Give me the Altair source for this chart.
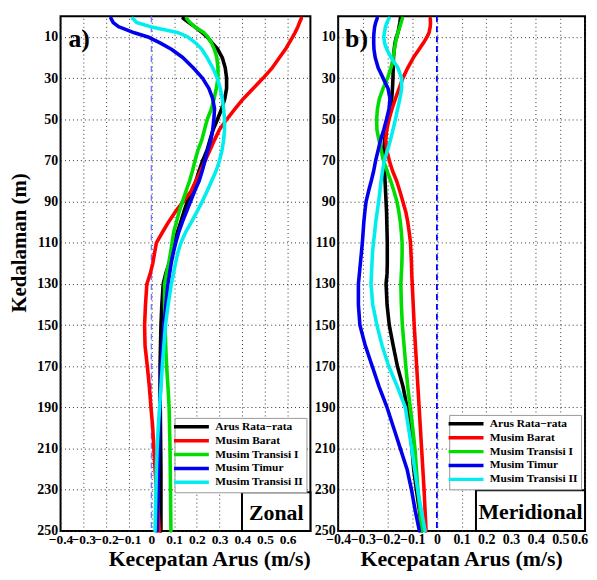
import altair as alt
import pandas as pd

# ---------------- data ----------------
depths = [1, 3, 5, 8, 10, 13, 16, 20, 25, 30, 35, 40, 45, 50, 55, 60, 65, 70, 75, 80, 85,
          90, 95, 100, 105, 110, 115, 120, 125, 130, 140, 150, 160, 170, 180, 190, 200,
          210, 220, 230, 240, 250]

series_names = ["Arus Rata\u2212rata", "Musim Barat", "Musim Transisi I", "Musim Timur", "Musim Transisi II"]
colors = ["#000000", "#ff0000", "#00dd00", "#0000ee", "#00eeee"]

zonal_rata = [0.14, 0.165, 0.19, 0.225, 0.245, 0.268, 0.292, 0.312, 0.325, 0.331, 0.331, 0.323, 0.309,
              0.291, 0.272, 0.258, 0.245, 0.226, 0.21, 0.196, 0.178, 0.158, 0.143, 0.129, 0.114, 0.100,
              0.09, 0.078, 0.063, 0.052, 0.046, 0.042, 0.04, 0.038, 0.038, 0.039, 0.040, 0.041, 0.042,
              0.042, 0.042, 0.042]
zonal_barat = [0.66, 0.652, 0.645, 0.632, 0.622, 0.606, 0.59, 0.564, 0.532, 0.492, 0.448, 0.405, 0.368,
               0.332, 0.30, 0.278, 0.258, 0.237, 0.217, 0.196, 0.174, 0.14, 0.105, 0.075, 0.048, 0.022,
               0.014, 0.006, -0.005, -0.02, -0.026, -0.03, -0.028, -0.018, -0.009, -0.002, 0.006, 0.011,
               0.016, 0.022, 0.029, 0.035]
zonal_transisi1 = [0.155, 0.17, 0.19, 0.232, 0.248, 0.265, 0.277, 0.288, 0.293, 0.293, 0.286, 0.276, 0.264,
                   0.246, 0.234, 0.222, 0.205, 0.192, 0.181, 0.168, 0.152, 0.137, 0.122, 0.11, 0.098, 0.091,
                   0.084, 0.076, 0.066, 0.058, 0.058, 0.06, 0.063, 0.067, 0.073, 0.078, 0.08, 0.082, 0.083,
                   0.084, 0.085, 0.086]
zonal_timur = [-0.178, -0.168, -0.145, -0.075, -0.015, 0.04, 0.088, 0.138, 0.184, 0.225, 0.253, 0.27, 0.278,
               0.275, 0.27, 0.262, 0.248, 0.236, 0.224, 0.21, 0.19, 0.172, 0.154, 0.136, 0.12, 0.107, 0.096,
               0.087, 0.08, 0.073, 0.064, 0.056, 0.049, 0.043, 0.04, 0.037, 0.035, 0.033, 0.031, 0.029,
               0.027, 0.025]
zonal_transisi2 = [-0.082, -0.065, -0.005, 0.12, 0.16, 0.195, 0.222, 0.245, 0.27, 0.29, 0.303, 0.312, 0.318,
                   0.322, 0.322, 0.318, 0.311, 0.3, 0.285, 0.265, 0.245, 0.224, 0.2, 0.176, 0.15, 0.13, 0.116,
                   0.106, 0.097, 0.088, 0.074, 0.062, 0.055, 0.048, 0.042, 0.036, 0.03, 0.025, 0.022, 0.02,
                   0.018, 0.016]

mer_rata = [-0.148, -0.15, -0.153, -0.158, -0.164, -0.17, -0.173, -0.176, -0.177, -0.178, -0.18, -0.183,
            -0.19, -0.198, -0.205, -0.212, -0.215, -0.214, -0.212, -0.21, -0.208, -0.206, -0.204, -0.203,
            -0.202, -0.201, -0.201, -0.201, -0.202, -0.206, -0.202, -0.193, -0.177, -0.16, -0.137, -0.121,
            -0.11, -0.101, -0.094, -0.083, -0.071, -0.06]
mer_barat = [-0.027, -0.026, -0.027, -0.032, -0.04, -0.055, -0.072, -0.095, -0.118, -0.138, -0.153, -0.168,
             -0.182, -0.194, -0.203, -0.207, -0.203, -0.193, -0.18, -0.163, -0.15, -0.138, -0.126, -0.118,
             -0.112, -0.107, -0.105, -0.103, -0.102, -0.1, -0.096, -0.092, -0.087, -0.082, -0.077, -0.072,
             -0.067, -0.062, -0.057, -0.052, -0.048, -0.044]
mer_transisi1 = [-0.14, -0.145, -0.15, -0.158, -0.163, -0.168, -0.172, -0.177, -0.186, -0.2, -0.218, -0.233,
                 -0.241, -0.244, -0.243, -0.235, -0.226, -0.217, -0.202, -0.187, -0.174, -0.162, -0.154,
                 -0.148, -0.144, -0.141, -0.141, -0.142, -0.144, -0.146, -0.144, -0.14, -0.133, -0.126,
                 -0.118, -0.108, -0.098, -0.089, -0.083, -0.077, -0.069, -0.061]
mer_timur = [-0.242, -0.248, -0.252, -0.255, -0.256, -0.256, -0.255, -0.25, -0.238, -0.218, -0.198, -0.19,
             -0.194, -0.204, -0.215, -0.228, -0.238, -0.248, -0.256, -0.266, -0.277, -0.287, -0.292, -0.296,
             -0.299, -0.302, -0.306, -0.31, -0.314, -0.318, -0.318, -0.312, -0.29, -0.262, -0.234, -0.202,
             -0.175, -0.148, -0.121, -0.103, -0.088, -0.071]
mer_transisi2 = [-0.194, -0.203, -0.208, -0.213, -0.215, -0.212, -0.203, -0.186, -0.158, -0.143, -0.143,
                 -0.15, -0.159, -0.168, -0.178, -0.188, -0.2, -0.213, -0.22, -0.226, -0.231, -0.236, -0.242,
                 -0.248, -0.252, -0.257, -0.261, -0.263, -0.265, -0.267, -0.26, -0.243, -0.222, -0.195,
                 -0.16, -0.128, -0.115, -0.102, -0.09, -0.078, -0.063, -0.048]

x_ticks = [-0.4, -0.3, -0.2, -0.1, 0, 0.1, 0.2, 0.3, 0.4, 0.5, 0.6]
y_ticks = [10, 30, 50, 70, 90, 110, 130, 150, 170, 190, 210, 230, 250]

FONT = "Liberation Serif"
H = 519


def long_frame(lists):
    rows = []
    for name, vals in zip(series_names, lists):
        for d, v in zip(depths, vals):
            rows.append({"Kedalaman": d, "Kecepatan": v, "Musim": name})
    return pd.DataFrame(rows)


def panel(lists, xmax, width, zero_color, zero_width, tag, tag_x, box_label, box_x1, box_y1,
          legend_x, legend_y, with_ytitle, title_x, last_shift, label_size):
    df = long_frame(lists)
    xs = alt.Scale(domain=[-0.4, xmax], nice=False, zero=False)
    ys = alt.Scale(domain=[0, 250], reverse=True, nice=False, zero=False)
    axis_kw = dict(values=x_ticks,
                   labelExpr="datum.value == 0 ? '0' : format(datum.value, '.1f')",
                   labelFlush=False, labelOverlap=False, labelSeparation=-8,
                   labelFontSize=label_size,
                   title="Kecepatan Arus (m/s)", titleX=title_x)
    if last_shift:
        axis_kw["labelOffset"] = {"condition": {"test": "datum.value > 0.55", "value": last_shift},
                                  "value": 0}
    x_axis = alt.Axis(**axis_kw)
    if with_ytitle:
        y_axis = alt.Axis(values=y_ticks, labelOverlap=False, title="Kedalaman (m)",
                          titleY=228, titlePadding=7, titleFontSize=21)
    else:
        y_axis = alt.Axis(values=y_ticks, labelOverlap=False, title=None)

    x_enc = alt.X("Kecepatan:Q", scale=xs, axis=x_axis)

    zero = alt.Chart(pd.DataFrame({"Kecepatan": [0.0]})).mark_rule(
        color=zero_color, strokeDash=[6, 4], strokeWidth=zero_width
    ).encode(x=x_enc)

    lines = alt.Chart(df).mark_line(strokeWidth=3.6, strokeCap="round", strokeJoin="round").encode(
        x=x_enc,
        y=alt.Y("Kedalaman:Q", scale=ys, axis=y_axis),
        color=alt.Color("Musim:N", sort=series_names,
                        scale=alt.Scale(domain=series_names, range=colors),
                        legend=alt.Legend(orient="none", legendX=legend_x, legendY=legend_y,
                                          title=None, symbolType="M-4.4,0H4.4", symbolSize=64,
                                          symbolStrokeWidth=3.5, symbolOffset=8, labelOffset=18,
                                          labelFont=FONT, labelFontSize=11.5, labelFontWeight="bold",
                                          labelColor="black", padding=3, rowPadding=0,
                                          strokeColor="#999999", fillColor="white", labelLimit=200)),
        order=alt.Order("Kedalaman:Q"),
    )

    box_df = pd.DataFrame({"label": [box_label]})
    box = alt.Chart(box_df).mark_rect(fill="white", stroke="black", strokeWidth=2).encode(
        x=alt.value(box_x1), x2=alt.value(width), y=alt.value(box_y1), y2=alt.value(H)
    )
    box_text = alt.Chart(box_df).mark_text(font=FONT, fontSize=22, fontWeight="bold",
                                           align="center", baseline="middle", color="black").encode(
        x=alt.value((box_x1 + width) / 2), y=alt.value((box_y1 + H) / 2 + 1), text="label:N"
    )
    tag_text = alt.Chart(pd.DataFrame({"tag": [tag]})).mark_text(
        font=FONT, fontSize=26, fontWeight="bold", align="left", baseline="alphabetic", color="black"
    ).encode(x=alt.value(tag_x), y=alt.value(31), text="tag:N")

    return alt.layer(zero, lines, box, box_text, tag_text).properties(width=width, height=H)


pa = panel([zonal_rata, zonal_barat, zonal_transisi1, zonal_timur, zonal_transisi2],
           0.7, 252, "#7777ff", 1.4, "a)", 8, "Zonal", 183, 480, 115, 405, True, 150, 0, 13.5)
pb = panel([mer_rata, mer_barat, mer_transisi1, mer_timur, mer_transisi2],
           0.6, 249, "#0000ff", 1.8, "b)", 7, "Meridional", 139, 478, 112, 402, False, 124, -6, 14)

chart = alt.hconcat(pa, pb, spacing=1).resolve_scale(
    color="independent", x="independent"
).resolve_legend(color="independent").properties(
    padding={"left": 0, "top": 4, "right": 0, "bottom": 0}
).configure_view(
    stroke="black", strokeWidth=2
).configure_axis(
    labelFont=FONT, labelFontSize=14, labelFontWeight="bold", labelColor="black",
    titleFont=FONT, titleFontSize=22, titleFontWeight="bold", titleColor="black",
    grid=True, gridColor="#333333", gridDash=[1, 3], gridWidth=1, gridOpacity=1,
    ticks=False, tickSize=0, domain=False, labelPadding=3, labelOverlap=False
).configure_axisX(labelPadding=2, titlePadding=2)

chart.save("out.html", embed_options={"renderer": "svg", "actions": False})
